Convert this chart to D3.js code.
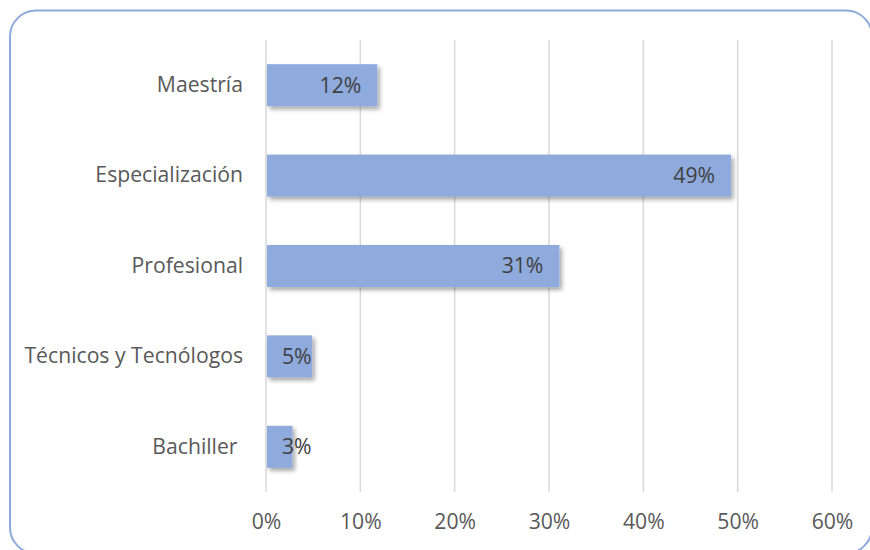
<!DOCTYPE html>
<html><head><meta charset="utf-8">
<script src="https://cdn.jsdelivr.net/npm/d3@7"></script>
<style>html,body{margin:0;padding:0;background:#fff;}svg{display:block;}</style>
</head><body>
<svg id="chart" width="870" height="550"></svg>
<script>
const categories = ["Maestría", "Especialización", "Profesional", "Técnicos y Tecnólogos", "Bachiller\u00a0"];
const values = [0.118, 0.493, 0.311, 0.049, 0.028];
const dataLabels = ["12%", "49%", "31%", "5%", "3%"];
const ticks = [0, 0.1, 0.2, 0.3, 0.4, 0.5, 0.6];

const svg = d3.select("#chart");
const font = "'Open Sans', sans-serif";

// fit font size so the longest category label matches the reference width (~219px)
const probe = svg.append("text").attr("font-family",font).attr("font-size",100).text("Técnicos y Tecnólogos");
const fs = Math.round(219 / probe.node().getComputedTextLength() * 100 * 10) / 10;
probe.remove();

const defs = svg.append("defs");
const f = defs.append("filter").attr("id","sh").attr("x","-10%").attr("y","-20%").attr("width","130%").attr("height","160%");
f.append("feDropShadow").attr("dx",2.5).attr("dy",3).attr("stdDeviation",2).attr("flood-color","#000").attr("flood-opacity",0.35);

svg.append("rect").attr("x",10).attr("y",10.5).attr("width",862).attr("height",543)
  .attr("rx",26).attr("fill","#fff").attr("stroke","#8eaadb").attr("stroke-width",2);

const x = d3.scaleLinear().domain([0,0.6]).range([266,832]);
const y = d3.scaleBand().domain(categories).range([40,492]).paddingInner(0.535).paddingOuter(0.2675);

svg.append("g").selectAll("line").data(ticks).join("line")
  .attr("x1",d=>x(d)).attr("x2",d=>x(d)).attr("y1",40).attr("y2",492)
  .attr("stroke","#d9d9d9").attr("stroke-width",1.5);

const xAxis = svg.append("g").attr("transform","translate(0,492)")
  .call(d3.axisBottom(x).tickValues(ticks).tickFormat(d3.format(".0%")).tickSize(0).tickPadding(22));
xAxis.select(".domain").remove();
xAxis.selectAll("text").attr("font-family",font).attr("font-size",fs).attr("fill","#595959");

const yAxis = svg.append("g").attr("transform","translate(266,0)")
  .call(d3.axisLeft(y).tickSize(0).tickPadding(23));
yAxis.select(".domain").remove();
yAxis.selectAll("text").attr("font-family",font).attr("font-size",fs).attr("fill","#595959");

svg.append("g").selectAll("rect").data(categories).join("rect")
  .attr("x",x(0)+1).attr("y",d=>y(d)).attr("height",y.bandwidth())
  .attr("width",(d,i)=>x(values[i])-x(0)-1)
  .attr("fill","#8faadc").attr("filter","url(#sh)");

const lbl = svg.append("g").selectAll("text").data(categories).join("text")
  .attr("y",(d)=>y(d)+y.bandwidth()/2).attr("dy","0.35em")
  .attr("text-anchor","end").attr("font-family",font).attr("font-size",fs).attr("fill","#404040")
  .text((d,i)=>dataLabels[i]);
lbl.each(function(d,i){
  const w = this.getComputedTextLength();
  const xe = Math.max(x(values[i]) - 16, x(0) + 16 + w);
  d3.select(this).attr("x", xe);
});
</script>
</body></html>
